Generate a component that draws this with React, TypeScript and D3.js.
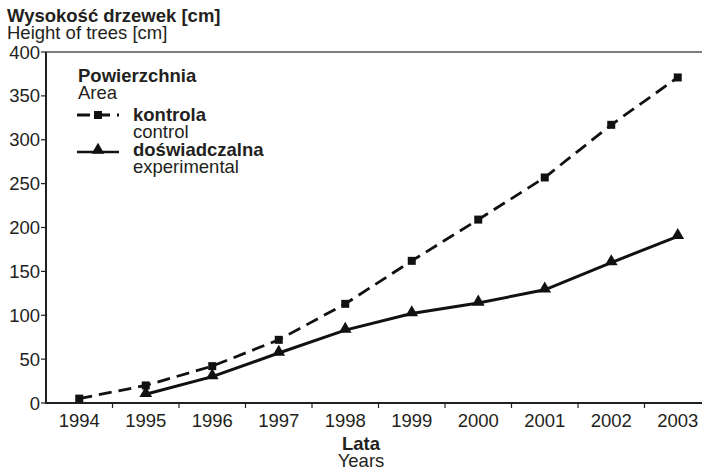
import React from "react";
import * as d3 from "d3";

const years = ["1994", "1995", "1996", "1997", "1998", "1999", "2000", "2001", "2002", "2003"];
const controlValues: (number | null)[] = [5, 20, 42, 72, 113, 162, 209, 257, 317, 371];
const experimentalValues: (number | null)[] = [null, 10, 30, 57, 83, 102, 114, 129, 160, 190];
const yTicks = [0, 50, 100, 150, 200, 250, 300, 350, 400];

const W = 702;
const H = 470;
const FONT = "'Liberation Sans', Arial, sans-serif";
const FS = 18.5;

export default function App() {
  const left = 46;
  const x = d3.scaleBand<string>().domain(years).range([left, left + 665]).padding(0);
  const y = d3.scaleLinear().domain([0, 400]).range([403, 52]);
  const cx = (yr: string) => (x(yr) as number) + x.bandwidth() / 2;

  const line = d3
    .line<{ yr: string; v: number | null }>()
    .defined((d) => d.v !== null)
    .x((d) => cx(d.yr))
    .y((d) => y(d.v as number));

  const ctrl = years.map((yr, i) => ({ yr, v: controlValues[i] }));
  const exp = years.map((yr, i) => ({ yr, v: experimentalValues[i] }));
  const tri = d3.symbol(d3.symbolTriangle, 70)() as string;

  return (
    <svg
      width={W}
      height={H}
      style={{ position: "fixed", left: 0, top: 0, background: "#fff" }}
      fontFamily={FONT}
    >
      <rect width={W} height={H} fill="#fff" />
      {/* titles */}
      <text x={7} y={22} fontSize={FS} fontWeight="bold" fill="#231f20">Wysokość drzewek [cm]</text>
      <text x={7} y={39} fontSize={FS} fill="#231f20">Height of trees [cm]</text>

      {/* top frame line */}
      <line x1={left} x2={W} y1={y(400)} y2={y(400)} stroke="#555" strokeWidth={1.3} />

      {/* y axis */}
      <line x1={left} x2={left} y1={y(400)} y2={y(0) + 1} stroke="#231f20" strokeWidth={2} />
      {yTicks.map((t) => (
        <g key={t}>
          <line x1={left - 5} x2={left} y1={y(t)} y2={y(t)} stroke="#231f20" strokeWidth={1.2} />
          <text x={left - 6} y={y(t) + 6.5} fontSize={FS} textAnchor="end" fill="#231f20">{t}</text>
        </g>
      ))}

      {/* x axis */}
      <line x1={left - 1} x2={W} y1={y(0)} y2={y(0)} stroke="#231f20" strokeWidth={2} />
      {years.map((yr) => (
        <g key={yr}>
          <line x1={(x(yr) as number) + x.bandwidth()} x2={(x(yr) as number) + x.bandwidth()} y1={y(0)} y2={y(0) + 5} stroke="#231f20" strokeWidth={1.2} />
          <text x={cx(yr)} y={427} fontSize={FS} textAnchor="middle" fill="#231f20">{yr}</text>
        </g>
      ))}
      <text x={361} y={450} fontSize={FS} fontWeight="bold" textAnchor="middle" fill="#231f20">Lata</text>
      <text x={361} y={467} fontSize={FS} textAnchor="middle" fill="#231f20">Years</text>

      {/* series */}
      <path d={line(ctrl) || ""} fill="none" stroke="#111" strokeWidth={2.8} strokeDasharray="13 7" />
      <path d={line(exp) || ""} fill="none" stroke="#111" strokeWidth={3} />
      {ctrl.filter((d) => d.v !== null).map((d) => (
        <rect key={d.yr} x={cx(d.yr) - 4} y={y(d.v as number) - 4} width={8} height={8} fill="#111" />
      ))}
      {exp.filter((d) => d.v !== null).map((d) => (
        <path key={d.yr} d={tri} transform={`translate(${cx(d.yr)},${y(d.v as number) - 1})`} fill="#111" />
      ))}

      {/* legend */}
      <text x={78} y={82} fontSize={FS} fontWeight="bold" fill="#231f20">Powierzchnia</text>
      <text x={78} y={99} fontSize={FS} fill="#231f20">Area</text>
      <line x1={77} x2={119} y1={115} y2={115} stroke="#111" strokeWidth={2.8} strokeDasharray="13 7" />
      <rect x={94} y={111} width={8} height={8} fill="#111" />
      <text x={133} y={121} fontSize={FS} fontWeight="bold" fill="#231f20">kontrola</text>
      <text x={133} y={138} fontSize={FS} fill="#231f20">control</text>
      <line x1={77} x2={119} y1={152} y2={152} stroke="#111" strokeWidth={2.5} />
      <path d={tri} transform="translate(98,150)" fill="#111" />
      <text x={133} y={156} fontSize={FS} fontWeight="bold" fill="#231f20">doświadczalna</text>
      <text x={133} y={173} fontSize={FS} fill="#231f20">experimental</text>
    </svg>
  );
}
